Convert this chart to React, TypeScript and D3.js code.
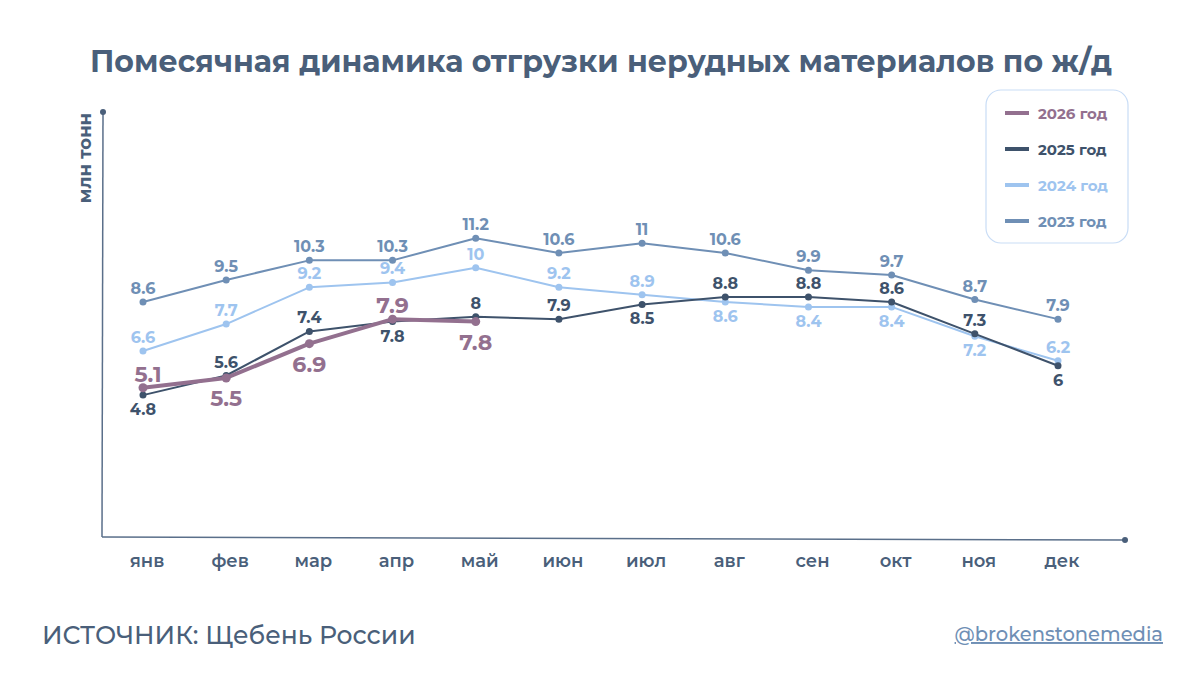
import React from "react";
import { scalePoint, scaleLinear, line } from "d3";

const months = ["янв", "фев", "мар", "апр", "май", "июн", "июл", "авг", "сен", "окт", "ноя", "дек"];

const y2023 = [8.6, 9.5, 10.3, 10.3, 11.2, 10.6, 11, 10.6, 9.9, 9.7, 8.7, 7.9];
const y2024 = [6.6, 7.7, 9.2, 9.4, 10, 9.2, 8.9, 8.6, 8.4, 8.4, 7.2, 6.2];
const y2025 = [4.8, 5.6, 7.4, 7.8, 8, 7.9, 8.5, 8.8, 8.8, 8.6, 7.3, 6];
const y2026 = [5.1, 5.5, 6.9, 7.9, 7.8];

// where each value label goes: u = above the point, d = below
const pos2023 = "uuuuuuuuuuuu";
const pos2024 = "uuuuuuuddddu";
const pos2025 = "duuduuduuuud";
const pos2026 = "uddud";

const TEXT = "#4a5f7a";
const FONT = "Montserrat, 'DejaVu Sans', sans-serif";

const series = [
  { name: "2023 год", values: y2023, pos: pos2023, color: "#6f8fb5", width: 2, r: 3.5, fs: 16 },
  { name: "2024 год", values: y2024, pos: pos2024, color: "#9ec4ef", width: 2, r: 3.5, fs: 16 },
  { name: "2025 год", values: y2025, pos: pos2025, color: "#3e526b", width: 2, r: 3.5, fs: 16 },
  { name: "2026 год", values: y2026, pos: pos2026, color: "#93708f", width: 4, r: 4.5, fs: 22 },
];

export default function App() {
  const x = scalePoint<string>().domain(months).range([143, 1058]);
  const y = scaleLinear().domain([0, 16]).range([512.7, 120.7]);

  const path = line<number>()
    .x((_, i) => x(months[i]) as number)
    .y((d) => y(d));

  const legend = [...series].reverse();

  return (
    <svg width={1200} height={675} style={{ position: "absolute", left: 0, top: 0, background: "#fff" }}>
      <text x={601} y={72} textAnchor="middle" fontFamily={FONT} fontWeight={700} fontSize={30} fill={TEXT}>
        Помесячная динамика отгрузки нерудных материалов по ж/д
      </text>

      {/* axes */}
      <line x1={103} y1={112} x2={102} y2={537} stroke="#5a6f8a" strokeWidth={1.5} />
      <circle cx={103} cy={112} r={3} fill="#4a5f7a" />
      <line x1={102} y1={537} x2={1125} y2={540} stroke="#5a6f8a" strokeWidth={1.5} />
      <circle cx={1125} cy={540} r={3} fill="#4a5f7a" />

      <text
        transform="translate(91,158) rotate(-90)"
        textAnchor="middle"
        fontFamily={FONT}
        fontWeight={700}
        fontSize={18}
        fill={TEXT}
      >
        млн тонн
      </text>

      {months.map((m) => (
        <text key={m} x={(x(m) as number) + 4} y={567} textAnchor="middle" fontFamily={FONT} fontWeight={600} fontSize={18} fill={TEXT}>
          {m}
        </text>
      ))}

      {series.map((s) => (
        <g key={s.name}>
          <path d={path(s.values) || ""} fill="none" stroke={s.color} strokeWidth={s.width} strokeLinejoin="round" />
          {s.values.map((v, i) => (
            <circle key={i} cx={x(months[i])} cy={y(v)} r={s.r} fill={s.color} />
          ))}
        </g>
      ))}

      {series.map((s) =>
        s.values.map((v, i) => {
          const up = s.pos[i] === "u";
          const big = s.fs > 18;
          const dy = up ? (big ? -6 : -8) : big ? 28 : 20;
          return (
            <text
              key={s.name + i}
              x={(x(months[i]) as number) + (big && i === 0 ? 5 : 0)}
              y={y(v) + dy}
              textAnchor="middle"
              fontFamily={FONT}
              fontWeight={700}
              fontSize={s.fs}
              fill={s.color}
            >
              {String(v)}
            </text>
          );
        })
      )}

      {/* legend */}
      <rect x={986} y={90} width={142} height={153} rx={15} fill="#fff" stroke="#c9ddf6" strokeWidth={1.2} />
      {legend.map((s, i) => (
        <g key={s.name} transform={`translate(0,${113 + i * 36})`}>
          <line x1={1005} x2={1029} y1={0} y2={0} stroke={s.color} strokeWidth={4} />
          <text x={1038} y={5.5} fontFamily={FONT} fontWeight={700} fontSize={15} fill={s.color}>
            {s.name}
          </text>
        </g>
      ))}

      <text x={42} y={644} fontFamily={FONT} fontWeight={500} fontSize={25} fill={TEXT}>
        ИСТОЧНИК: Щебень России
      </text>
      <text x={1163} y={641} textAnchor="end" fontFamily={FONT} fontWeight={500} fontSize={19.5} fill="#6f8fb5" textDecoration="underline">
        @brokenstonemedia
      </text>
    </svg>
  );
}
